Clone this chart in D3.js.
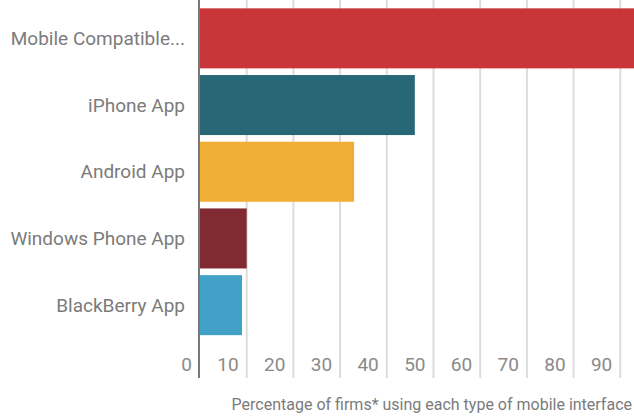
<!DOCTYPE html>
<html><head><meta charset="utf-8">
<script src="https://cdn.jsdelivr.net/npm/d3@7"></script>
<style>
html,body{margin:0;padding:0;background:#fff;overflow:hidden;}
text{font-family:Roboto,"Open Sans",sans-serif;}
</style></head>
<body><svg id="c" width="634" height="416"></svg>
<script>
const categories = ["Mobile Compatible...", "iPhone App", "Android App", "Windows Phone App", "BlackBerry App"];
const values = [96, 46, 33, 10, 9];
const colors = ["#c9363a", "#286876", "#f0ae36", "#812a32", "#41a1c6"];
const tickValues = [0, 10, 20, 30, 40, 50, 60, 70, 80, 90];
const axisTitle = "Percentage of firms* using each type of mobile interface";

const svg = d3.select("#c");
const x = d3.scaleLinear().domain([0, 100]).range([200, 667]);
const y = d3.scaleBand().domain(categories).range([5, 338.5]).paddingInner(0.1).paddingOuter(0.05);

// gridlines
svg.append("g").selectAll("line").data(tickValues.slice(1)).join("line")
  .attr("x1", d => x(d)).attr("x2", d => x(d))
  .attr("y1", 0).attr("y2", 378)
  .attr("stroke", "#dcdcdc").attr("stroke-width", 2);

// bars
svg.append("g").selectAll("rect").data(categories).join("rect")
  .attr("x", x(0)).attr("y", d => y(d))
  .attr("width", (d, i) => x(values[i]) - x(0))
  .attr("height", y.bandwidth())
  .attr("fill", (d, i) => colors[i]);

// axis line
svg.append("line").attr("x1", x(0) - 1).attr("x2", x(0) - 1).attr("y1", 0).attr("y2", 378)
  .attr("stroke", "#7a7a7a").attr("stroke-width", 2);

// category labels
svg.append("g").selectAll("text").data(categories).join("text")
  .attr("x", 185).attr("y", d => y(d) + y.bandwidth() / 2)
  .attr("dy", "0.35em").attr("text-anchor", "end")
  .attr("fill", "#7b7b7b").style("font-size", "19px")
  .text(d => d);

// tick labels
svg.append("g").selectAll("text").data(tickValues).join("text")
  .attr("x", d => x(d) - 8).attr("y", 364)
  .attr("dy", "0.35em").attr("text-anchor", "end")
  .attr("fill", "#8a8a8a").style("font-size", "19px")
  .text(d => d);

// axis title
svg.append("text").attr("x", 632).attr("y", 404).attr("dy", "0.35em")
  .attr("text-anchor", "end").attr("fill", "#7b7b7b").style("font-size", "16px")
  .text(axisTitle);
</script>
</body></html>
